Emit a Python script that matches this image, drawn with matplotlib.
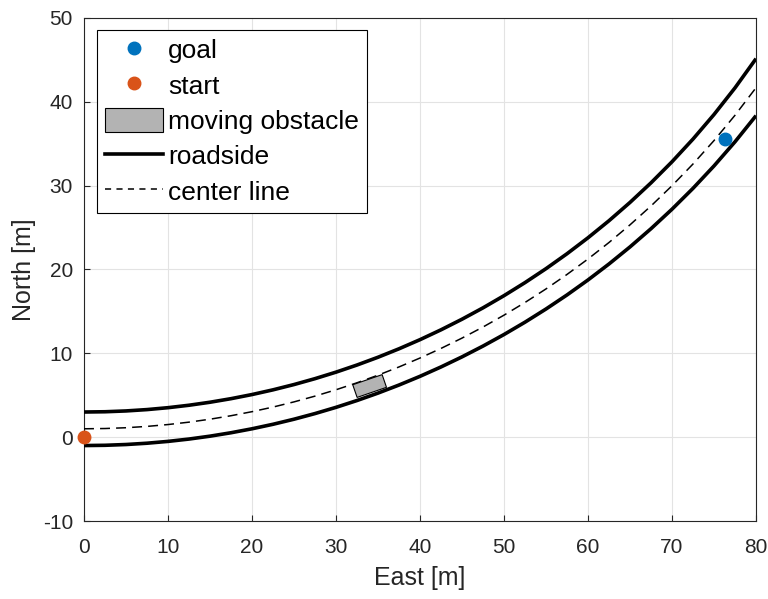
import matplotlib
matplotlib.use('Agg')
import matplotlib.pyplot as plt
from matplotlib.patches import Rectangle, Patch
from matplotlib.lines import Line2D

plt.rcParams['font.family'] = ['Liberation Sans', 'DejaVu Sans']
plt.rcParams['axes.unicode_minus'] = False

# road geometry (East, North in m)
east = [0, 2.5, 5, 7.5, 10, 12.5, 15, 17.5, 20, 22.5, 25, 27.5, 30, 32.5, 35, 37.5,
        40, 42.5, 45, 47.5, 50, 52.5, 55, 57.5, 60, 62.5, 65, 67.5, 70, 72.5, 75, 77.5, 80]
center_north = [1.000, 1.032, 1.126, 1.284, 1.506, 1.792, 2.143, 2.559, 3.041, 3.591,
                4.209, 4.896, 5.655, 6.487, 7.393, 8.377, 9.441, 10.587, 11.818, 13.14,
                14.554, 16.067, 17.684, 19.410, 21.254, 23.223, 25.327, 27.579, 29.993,
                32.585, 35.378, 38.399, 41.682]
left_north = [3.000, 3.032, 3.129, 3.290, 3.517, 3.809, 4.167, 4.592, 5.084, 5.646,
              6.277, 6.980, 7.756, 8.607, 9.534, 10.542, 11.631, 12.806, 14.070, 15.426,
              16.880, 18.436, 20.100, 21.880, 23.784, 25.819, 28.000, 30.338, 32.851,
              35.558, 38.486, 41.667, 45.146]
right_north = [-1.000, -0.969, -0.876, -0.721, -0.504, -0.224, 0.120, 0.528, 1.000, 1.538,
               2.143, 2.816, 3.558, 4.372, 5.258, 6.220, 7.258, 8.377, 9.579, 10.867,
               12.244, 13.717, 15.289, 16.965, 18.753, 20.661, 22.695, 24.868, 27.192,
               29.681, 32.354, 35.233, 38.348]

goal = (76.3, 35.6)
start = (0.0, 0.0)
obstacle_center = (34.0, 6.1)
obstacle_size = (3.7, 1.6)
obstacle_heading = 19.0  # deg

BLUE = '#0072BD'
ORANGE = '#D95319'
AXC = '#262626'
DASH = (0, (6.5, 4))

fig = plt.figure(figsize=(7.68, 5.99), dpi=100)
ax = fig.add_axes([0.1094, 0.1302, 0.8750, 0.8398])

road_kw = dict(color='black', lw=2.6, solid_joinstyle='round', solid_capstyle='butt', zorder=3)
ax.plot(east, left_north, **road_kw)
ax.plot(east, right_north, **road_kw)
ax.plot(east, center_north, color='black', lw=1.1, ls=DASH, zorder=3)

L, W = obstacle_size
ax.add_patch(Rectangle((obstacle_center[0] - L / 2, obstacle_center[1] - W / 2), L, W,
                       angle=obstacle_heading, rotation_point='center',
                       facecolor='#b3b3b3', edgecolor='black', lw=0.8, zorder=4))

ax.plot(*goal, 'o', color=BLUE, ms=9, zorder=5, clip_on=False)
ax.plot(*start, 'o', color=ORANGE, ms=9, zorder=5, clip_on=False)

ax.set_xlim(0, 80)
ax.set_ylim(-10, 50)
ax.set_xticks(range(0, 81, 10))
ax.set_yticks(range(-10, 51, 10))
ax.grid(True, color='#e3e3e3', lw=0.8)
ax.set_axisbelow(True)
ax.tick_params(direction='in', length=4.5, width=0.8, labelsize=15, colors=AXC, pad=8)
ax.tick_params(axis='x', pad=12)
for s in ax.spines.values():
    s.set_color(AXC)
    s.set_linewidth(0.8)
ax.set_xlabel('East [m]', fontsize=18, color=AXC, labelpad=7)
ax.set_ylabel('North [m]', fontsize=18, color=AXC, labelpad=5)

handles = [
    Line2D([], [], marker='o', ls='none', color=BLUE, ms=9),
    Line2D([], [], marker='o', ls='none', color=ORANGE, ms=9),
    Patch(facecolor='#b3b3b3', edgecolor='black', lw=0.8),
    Line2D([], [], color='black', lw=2.6),
    Line2D([], [], color='black', lw=1.1, ls=(0, (4, 3.5))),
]
labels = ['goal', 'start', 'moving obstacle', 'roadside', 'center line']
leg = ax.legend(handles, labels, loc='upper left', bbox_to_anchor=(0.019, 0.977),
                fontsize=19, fancybox=False, framealpha=1, edgecolor='black',
                handlelength=2.2, handleheight=1.0, handletextpad=0.2,
                labelspacing=0.36, borderpad=0.3, borderaxespad=0)
leg.get_frame().set_linewidth(0.8)

fig.savefig('out.png', dpi=100)
